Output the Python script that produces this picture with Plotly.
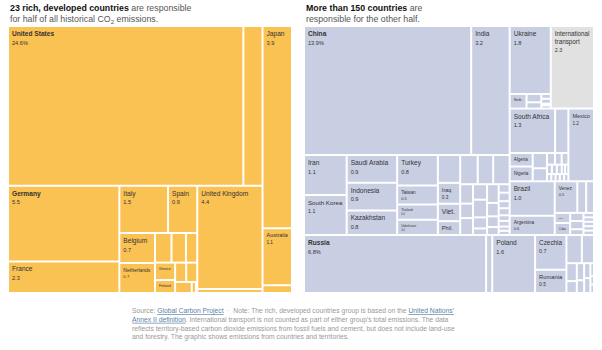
import plotly.graph_objects as go

# ---------------- Left panel: 23 rich, developed countries ----------------
# group nodes have value 0; leaves carry cumulative share of CO2 emissions (%)
left_ids = [
    "Rich", "Rich A", "North America", "United States", "Canada",
    "Europe", "Europe 1", "Germany", "France",
    "Europe 2", "Europe 2a", "Italy", "Spain",
    "Europe 2b", "Europe 2b1", "Belgium", "Netherlands",
    "Europe 2b2", "Europe 2b2a", "Austria", "Sweden", "Denmark",
    "Europe 2b2b", "Europe 2b2b1", "Greece", "Finland",
    "Europe 2b2b2", "Europe 2b2b2a", "Switzerland", "Portugal",
    "Europe 2b2b2b", "Norway", "Luxembourg", "Iceland",
    "Europe 3", "United Kingdom", "Ireland",
    "Asia-Pacific", "Japan", "Australia", "New Zealand",
]
left_parents = [
    "", "Rich", "Rich A", "North America", "North America",
    "Rich A", "Europe", "Europe 1", "Europe 1",
    "Europe", "Europe 2", "Europe 2a", "Europe 2a",
    "Europe 2", "Europe 2b", "Europe 2b1", "Europe 2b1",
    "Europe 2b", "Europe 2b2", "Europe 2b2a", "Europe 2b2a", "Europe 2b2a",
    "Europe 2b2", "Europe 2b2b", "Europe 2b2b1", "Europe 2b2b1",
    "Europe 2b2b", "Europe 2b2b2", "Europe 2b2b2a", "Europe 2b2b2a",
    "Europe 2b2b2", "Europe 2b2b2b", "Europe 2b2b2b", "Europe 2b2b2b",
    "Europe", "Europe 3", "Europe 3",
    "Rich", "Asia-Pacific", "Asia-Pacific", "Asia-Pacific",
]
left_values = [
    0, 0, 0, 24.6, 2.0,
    0, 0, 5.5, 2.3,
    0, 0, 1.5, 0.9,
    0, 0, 0.7, 0.7,
    0, 0, 0.32, 0.28, 0.22,
    0, 0, 0.23, 0.17,
    0, 0, 0.14, 0.14,
    0, 0.12, 0.03, 0.01,
    0, 4.4, 0.17,
    0, 3.9, 1.1, 0.15,
]
left_short = {"United States": "United States"}
# label mode: "B%" bold + value with %, "Bv" bold + value, "v" name + value, "n" name only
left_mode = {
    "United States": "B%", "Germany": "Bv", "France": "v", "Italy": "v", "Spain": "v",
    "Belgium": "v", "Netherlands": "v", "Greece": "n", "Finland": "n",
    "United Kingdom": "v", "Japan": "v", "Australia": "v",
}

# ---------------- Right panel: more than 150 countries ----------------
right_ids = [
    "Other", "Other W", "Other top",
    "Asia", "Asia 1", "China", "India",
    "Asia 2", "Asia 2a", "Iran", "South Korea",
    "Asia 2b", "Saudi Arabia", "Indonesia", "Kazakhstan",
    "Asia 2c", "Turkey", "Taiwan", "Thailand", "Uzbekistan",
    "Asia 2d", "Malaysia", "Iraq", "Vietnam", "Philippines",
    "Asia 2e", "Asia 2e1", "Pakistan", "North Korea", "United Arab Emirates",
    "Asia 2e2", "Asia 2e2a", "Kuwait", "Singapore", "Bangladesh",
    "Asia 2e2b", "Qatar", "Israel", "Syria", "Hong Kong",
    "Asia 2e2c", "Turkmenistan", "Oman", "Azerbaijan", "Myanmar",
    "Asia 2e2d", "Mongolia", "Bahrain", "Lebanon", "Jordan", "Sri Lanka", "Yemen", "Brunei", "Georgia",
    "Rest", "Rest 1", "Other Europe", "Ukraine",
    "Other Europe small", "Serbia",
    "Other Europe small a", "Bosnia and Herzegovina", "Moldova",
    "Other Europe small b", "North Macedonia", "Albania", "Montenegro", "Kosovo",
    "International transport",
    "Rest 2", "Africa", "Africa 1", "South Africa", "Egypt",
    "Africa 2", "Africa 2a", "Algeria", "Nigeria",
    "Africa 2b", "Libya", "Morocco",
    "Africa 2c", "Africa 2c1", "Tunisia", "Angola", "Zimbabwe",
    "Africa 2c2", "Kenya", "Ghana", "Sudan", "Côte d'Ivoire", "Ethiopia",
    "Africa 2c3", "DR Congo", "Tanzania", "Senegal", "Cameroon", "Zambia",
    "Mexico",
    "Rest 3", "Latin America 1", "Brazil", "Argentina",
    "Latin America 2", "Latin America 2a", "Venezuela", "Colombia", "Chile",
    "Latin America 2b", "Latin America 2b1", "Peru", "Cuba",
    "Latin America 2b2", "Ecuador", "Trinidad and Tobago", "Dominican Republic",
    "Latin America 2b3", "Bolivia", "Guatemala", "Uruguay", "Jamaica", "Panama",
    "Other bottom", "Russia", "Belarus", "Poland",
    "Europe CR", "Czechia", "Romania",
    "Europe HS", "Europe HS1", "Hungary", "Slovakia",
    "Europe HS2", "Europe HS2a", "Bulgaria", "Lithuania",
    "Europe HS2b", "Croatia", "Estonia",
    "Europe HS2c", "Slovenia", "Latvia",
    "Europe HS2d", "Cyprus", "Malta", "Armenia",
]
right_parents = [
    "", "Other", "Other W",
    "Other top", "Asia", "Asia 1", "Asia 1",
    "Asia", "Asia 2", "Asia 2a", "Asia 2a",
    "Asia 2", "Asia 2b", "Asia 2b", "Asia 2b",
    "Asia 2", "Asia 2c", "Asia 2c", "Asia 2c", "Asia 2c",
    "Asia 2", "Asia 2d", "Asia 2d", "Asia 2d", "Asia 2d",
    "Asia 2", "Asia 2e", "Asia 2e1", "Asia 2e1", "Asia 2e1",
    "Asia 2e", "Asia 2e2", "Asia 2e2a", "Asia 2e2a", "Asia 2e2a",
    "Asia 2e2", "Asia 2e2b", "Asia 2e2b", "Asia 2e2b", "Asia 2e2b",
    "Asia 2e2", "Asia 2e2c", "Asia 2e2c", "Asia 2e2c", "Asia 2e2c",
    "Asia 2e2", "Asia 2e2d", "Asia 2e2d", "Asia 2e2d", "Asia 2e2d", "Asia 2e2d", "Asia 2e2d", "Asia 2e2d", "Asia 2e2d",
    "Other top", "Rest", "Rest 1", "Other Europe",
    "Other Europe", "Other Europe small",
    "Other Europe small", "Other Europe small a", "Other Europe small a",
    "Other Europe small", "Other Europe small b", "Other Europe small b", "Other Europe small b", "Other Europe small b",
    "Rest 1",
    "Rest", "Rest 2", "Africa", "Africa 1", "Africa 1",
    "Africa", "Africa 2", "Africa 2a", "Africa 2a",
    "Africa 2", "Africa 2b", "Africa 2b",
    "Africa 2", "Africa 2c", "Africa 2c1", "Africa 2c1", "Africa 2c1",
    "Africa 2c", "Africa 2c2", "Africa 2c2", "Africa 2c2", "Africa 2c2", "Africa 2c2",
    "Africa 2c", "Africa 2c3", "Africa 2c3", "Africa 2c3", "Africa 2c3", "Africa 2c3",
    "Rest 2",
    "Rest", "Rest 3", "Latin America 1", "Latin America 1",
    "Rest 3", "Latin America 2", "Latin America 2a", "Latin America 2a", "Latin America 2a",
    "Latin America 2", "Latin America 2b", "Latin America 2b1", "Latin America 2b1",
    "Latin America 2b", "Latin America 2b2", "Latin America 2b2", "Latin America 2b2",
    "Latin America 2b", "Latin America 2b3", "Latin America 2b3", "Latin America 2b3", "Latin America 2b3", "Latin America 2b3",
    "Other W", "Other bottom", "Other bottom", "Other bottom",
    "Other bottom", "Europe CR", "Europe CR",
    "Other bottom", "Europe HS", "Europe HS1", "Europe HS1",
    "Europe HS", "Europe HS2", "Europe HS2a", "Europe HS2a",
    "Europe HS2", "Europe HS2b", "Europe HS2b",
    "Europe HS2", "Europe HS2c", "Europe HS2c",
    "Europe HS2", "Europe HS2d", "Europe HS2d", "Europe HS2d",
]
right_values = [
    0, 0, 0,
    0, 0, 13.9, 3.2,
    0, 0, 1.1, 1.1,
    0, 0.9, 0.9, 0.8,
    0, 0.8, 0.5, 0.4, 0.4,
    0, 0.4, 0.3, 0.25, 0.2,
    0, 0, 0.33, 0.29, 0.31,
    0, 0, 0.16, 0.12, 0.14,
    0, 0.14, 0.16, 0.1, 0.06,
    0, 0.14, 0.1, 0.08, 0.06,
    0, 0.06, 0.06, 0.05, 0.05, 0.04, 0.04, 0.03, 0.03,
    0, 0, 0, 1.8,
    0, 0.16,
    0, 0.08, 0.06,
    0, 0.03, 0.03, 0.01, 0.02,
    2.3,
    0, 0, 0, 1.3, 0.38,
    0, 0, 0.2, 0.22,
    0, 0.14, 0.12,
    0, 0, 0.06, 0.05, 0.05,
    0, 0.03, 0.03, 0.03, 0.02, 0.02,
    0, 0.02, 0.02, 0.02, 0.02, 0.02,
    1.2,
    0, 0, 1.0, 0.56,
    0, 0, 0.46, 0.18, 0.16,
    0, 0, 0.1, 0.12,
    0, 0.07, 0.07, 0.05,
    0, 0.03, 0.03, 0.03, 0.03, 0.03,
    0, 6.8, 0.23, 1.6,
    0, 0.7, 0.47,
    0, 0, 0.28, 0.22,
    0, 0, 0.12, 0.08,
    0, 0.08, 0.06,
    0, 0.06, 0.06,
    0, 0.03, 0.02, 0.02,
]
right_short = {
    "Vietnam": "Viet.", "Philippines": "Phil.", "Serbia": "Serb.",
    "Venezuela": "Venez.", "International transport": "International<br>transport",
}
right_mode = {
    "China": "B%", "India": "v", "Iran": "v", "South Korea": "v", "Saudi Arabia": "v",
    "Indonesia": "v", "Kazakhstan": "v", "Turkey": "v", "Taiwan": "v", "Thailand": "v",
    "Uzbekistan": "v", "Iraq": "v", "Vietnam": "n", "Philippines": "n",
    "Ukraine": "v", "Serbia": "n", "International transport": "v",
    "South Africa": "v", "Algeria": "n", "Nigeria": "n", "Mexico": "v",
    "Brazil": "v", "Argentina": "v", "Venezuela": "v", "Peru": "n", "Cuba": "n",
    "Russia": "B%", "Poland": "v", "Czechia": "v", "Romania": "v",
}

RICH_COLOR = "#FAC153"
OTHER_COLOR = "#C9CFE3"
TRANSPORT_COLOR = "#E1E1E1"
FONT = "Liberation Sans"


def cell_text(name, value, mode, short):
    if not mode:
        return ""
    label = short.get(name, name)
    if mode.startswith("B"):
        label = f"<b>{label}</b>"
    if mode.endswith("%"):
        return f"{label}<br><span style='font-size:5.6px'>{value:.1f}%</span>"
    if mode.endswith("v"):
        return f"{label}<br><span style='font-size:5.6px'>{value:.1f}</span>"
    return label


def build(ids, parents, values, mode, short, leaf_color, domain_x, domain_y):
    texts, colors = [], []
    for i, v in zip(ids, values):
        if v == 0:
            colors.append("#ffffff")
            texts.append("")
        else:
            colors.append(TRANSPORT_COLOR if i == "International transport" else leaf_color)
            texts.append(cell_text(i, v, mode.get(i, ""), short))
    return go.Treemap(
        ids=ids, labels=ids, parents=parents, values=values,
        branchvalues="remainder", sort=False,
        text=texts, textinfo="text", textposition="top left",
        textfont=dict(family=FONT, size=6.6, color="#333333"),
        marker=dict(colors=colors, line=dict(width=0, color="#ffffff"),
                    pad=dict(t=0, l=0, r=0, b=0), depthfade=False),
        tiling=dict(packing="slice-dice", pad=2),
        pathbar=dict(visible=False),
        hoverinfo="skip",
        domain=dict(x=domain_x, y=domain_y),
    )


W, H = 602, 350
ytop, ybot = 27, 292
fig = go.Figure()
fig.add_trace(build(left_ids, left_parents, left_values, left_mode, left_short, RICH_COLOR,
                    [9 / W, 291 / W], [1 - ybot / H, 1 - ytop / H]))
fig.add_trace(build(right_ids, right_parents, right_values, right_mode, right_short, OTHER_COLOR,
                    [305 / W, 593 / W], [1 - ybot / H, 1 - ytop / H]))

title_left = ("<b>23 rich, developed countries</b> <span style='color:#555'>are responsible<br>"
              "for half of all historical CO<sub>2</sub> emissions.</span>")
title_right = ("<b>More than 150 countries</b> <span style='color:#555'>are<br>"
               "responsible for the other half.</span>")
link = "color:#5b7fa6;text-decoration:underline"
footer = (f"Source: <span style='{link}'>Global Carbon Project</span>  ·  Note: The rich, developed countries group is based on the "
          f"<span style='{link}'>United Nations'</span><br>"
          f"<span style='{link}'>Annex II definition</span>. International transport is not counted as part of either group's total emissions. The data<br>"
          "reflects territory-based carbon dioxide emissions from fossil fuels and cement, but does not include land-use<br>"
          "and forestry. The graphic shows emissions from countries and territories.")

fig.add_annotation(x=8 / W, y=1 - 0.5 / H, xref="paper", yref="paper", xanchor="left", yanchor="top",
                   text=title_left, showarrow=False, align="left",
                   font=dict(family=FONT, size=8.8, color="#111111"))
fig.add_annotation(x=304 / W, y=1 - 0.5 / H, xref="paper", yref="paper", xanchor="left", yanchor="top",
                   text=title_right, showarrow=False, align="left",
                   font=dict(family=FONT, size=8.8, color="#111111"))
fig.add_annotation(x=130 / W, y=1 - 305 / H, xref="paper", yref="paper", xanchor="left", yanchor="top",
                   text=footer, showarrow=False, align="left",
                   font=dict(family=FONT, size=6.75, color="#999999"))

fig.update_layout(width=W, height=H, margin=dict(l=0, r=0, t=0, b=0),
                  paper_bgcolor="white", plot_bgcolor="white", showlegend=False)
fig.write_html("out.html")
